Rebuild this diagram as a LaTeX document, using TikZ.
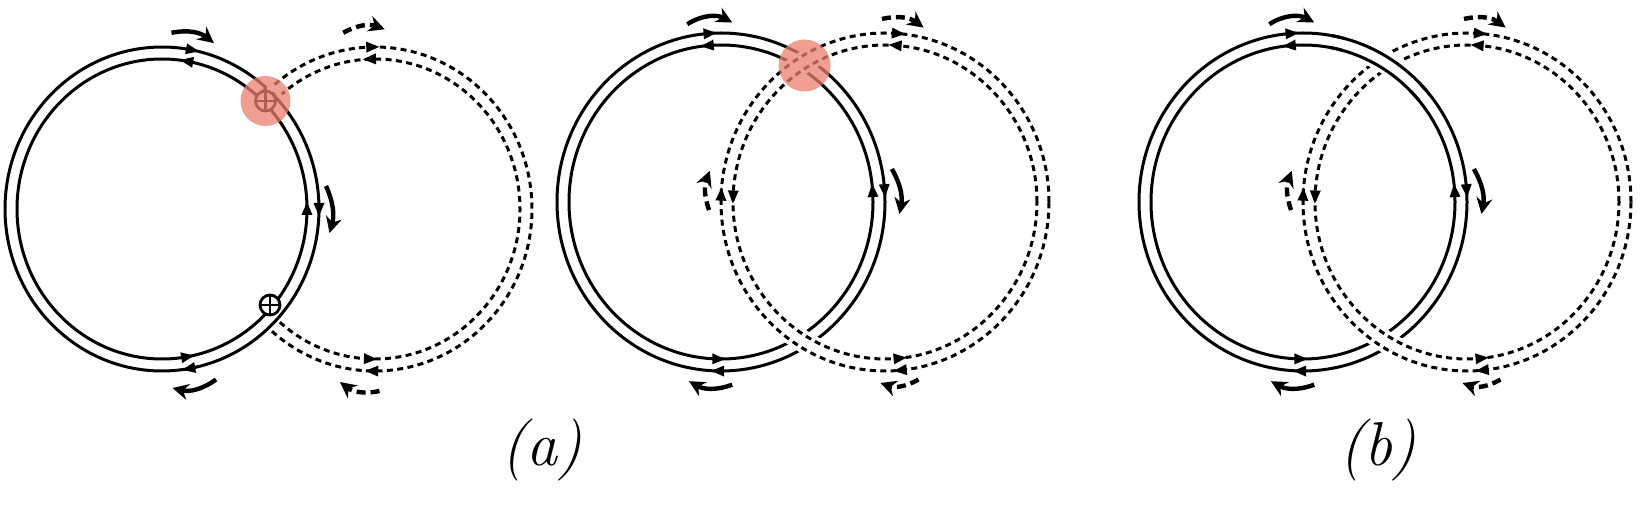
\documentclass[tikz,border=0pt]{standalone}
\usetikzlibrary{arrows.meta,calc}
\definecolor{hl}{RGB}{233,128,110}
\newcommand\amark[2]{\fill[shift={(#1)},rotate=#2] (7,0) -- (-6,5.5) -- (-6,-5.5) -- cycle;}
\begin{document}
\begin{tikzpicture}[x=0.5pt,y=0.5pt,
  sline/.style={line width=1.5pt},
  dline/.style={line width=1.5pt, dash pattern=on 3pt off 2.2pt},
  carrow/.style={line width=2.2pt, -{Stealth[length=8pt,width=8pt]}},
  dcarrow/.style={carrow, dash pattern=on 4.5pt off 2.5pt},
  knock/.style={white, line width=11pt},
  oplus/.style={circle, draw, fill=white, line width=1.4pt, minimum size=10pt, inner sep=0pt,
    path picture={\draw[line width=1.4pt] (path picture bounding box.north) -- (path picture bounding box.south)
      (path picture bounding box.west) -- (path picture bounding box.east);}},
  hlspot/.style={fill=hl, fill opacity=0.75},
  lab/.style={font=\fontsize{31}{37}\selectfont\itshape}
]
\useasboundingbox (0,0) rectangle (1640,504);
\coordinate (Sa) at (162,295);
\coordinate (Da) at (375,295);
\coordinate (Sb) at (721,302);
\coordinate (Db) at (885,302);
\coordinate (Sc) at (1303,302);
\coordinate (Dc) at (1467,302);

% ---------- panel (a), left ----------
\draw[sline] ($(Sa)+(48.4:157 and 162)$) arc[start angle=48.4, end angle=403.6, x radius=157, y radius=162];
\draw[sline] ($(Sa)+(48.4:157 and 162)$) -- ($(Sa)+(48.4:152 and 157)$);
\draw[sline] ($(Sa)+(43.6:157 and 162)$) -- ($(Sa)+(45.5:158 and 163)$);
\draw[sline] (Sa) ellipse[x radius=145, y radius=150];
\draw[dline] ($(Da)+(-131:157 and 162)$) arc[start angle=-131, end angle=130, x radius=157, y radius=162];
\draw[dline] ($(Da)+(-131:145 and 150)$) arc[start angle=-131, end angle=130, x radius=145, y radius=150];
\amark{$(Sa)+(79:157 and 162)$}{-11}
\amark{$(Sa)+(0:157 and 162)$}{-90}
\amark{$(Sa)+(-80:157 and 162)$}{-170}
\amark{$(Sa)+(80:145 and 150)$}{170}
\amark{$(Sa)+(0:145 and 150)$}{90}
\amark{$(Sa)+(-80:145 and 150)$}{10}
\amark{$(Da)+(91:157 and 162)$}{1}
\amark{$(Da)+(-91:157 and 162)$}{179}
\amark{$(Da)+(92:145 and 150)$}{182}
\amark{$(Da)+(-92:145 and 150)$}{-2}
\node[oplus] (pa1) at (265.5,403) {};
\node[oplus] (pa2) at (270,199) {};
\fill[hlspot] (265.5,403) circle (25);
\draw[carrow] (171.5,471.2) to[bend left=25] (213.9,460.9);
\draw[dcarrow] (343.3,471.2) to[bend left=25] (384.7,474.7);
\draw[carrow] (326,318) to[bend left=20] (329.5,271);
\draw[carrow] (216,124.5) to[bend left=25] (172.5,116);
\draw[dcarrow] (379.5,113) to[bend left=25] (340,122);

% ---------- panel (a), middle ----------
\draw[sline] (Sb) ellipse[x radius=164, y radius=169];
\draw[sline] (Sb) ellipse[x radius=152, y radius=157];
\draw[knock] ($(Db)+(105:158 and 163)$) arc[start angle=105, end angle=135, x radius=158, y radius=163];
\draw[knock] ($(Db)+(225:158 and 163)$) arc[start angle=225, end angle=255, x radius=158, y radius=163];
\draw[dline] (Db) ellipse[x radius=164, y radius=169];
\draw[dline] (Db) ellipse[x radius=152, y radius=157];
\amark{$(Sb)+(94:164 and 169)$}{4}
\amark{$(Sb)+(4:164 and 169)$}{-86}
\amark{$(Sb)+(-91:164 and 169)$}{-181}
\amark{$(Sb)+(95:152 and 157)$}{185}
\amark{$(Sb)+(4:152 and 157)$}{94}
\amark{$(Sb)+(-91:152 and 157)$}{-1}
\amark{$(Db)+(85.5:164 and 169)$}{-4.5}
\amark{$(Db)+(177.5:164 and 169)$}{87.5}
\amark{$(Db)+(-84.5:164 and 169)$}{-174.5}
\amark{$(Db)+(86:152 and 157)$}{176}
\amark{$(Db)+(178:152 and 157)$}{268}
\amark{$(Db)+(-84.5:152 and 157)$}{5.5}
\fill[hlspot] (804.6,438.5) circle (26);
\draw[carrow] (687.3,479.8) to[bend left=30] (732.2,481.6);
\draw[dcarrow] (882,485) to[bend left=25] (923.6,476.4);
\draw[carrow] (891.9,335) to[bend left=20] (899.5,290.1);
\draw[dcarrow] (709,294) to[bend left=20] (709.8,333.2);
\draw[carrow] (732.2,119.3) to[bend left=25] (689,122.8);
\draw[dcarrow] (918.5,124.5) to[bend left=25] (880.5,121);

% ---------- panel (b) ----------
\draw[sline] (Sc) ellipse[x radius=164, y radius=169];
\draw[sline] (Sc) ellipse[x radius=152, y radius=157];
\draw[knock] ($(Dc)+(225:158 and 163)$) arc[start angle=225, end angle=255, x radius=158, y radius=163];
\draw[dline] (Dc) ellipse[x radius=164, y radius=169];
\draw[dline] (Dc) ellipse[x radius=152, y radius=157];
\draw[knock] ($(Sc)+(45:158 and 163)$) arc[start angle=45, end angle=75, x radius=158, y radius=163];
\draw[sline] ($(Sc)+(40:164 and 169)$) arc[start angle=40, end angle=80, x radius=164, y radius=169];
\draw[sline] ($(Sc)+(40:152 and 157)$) arc[start angle=40, end angle=80, x radius=152, y radius=157];
\amark{$(Sc)+(94:164 and 169)$}{4}
\amark{$(Sc)+(4:164 and 169)$}{-86}
\amark{$(Sc)+(-91:164 and 169)$}{-181}
\amark{$(Sc)+(95:152 and 157)$}{185}
\amark{$(Sc)+(4:152 and 157)$}{94}
\amark{$(Sc)+(-91:152 and 157)$}{-1}
\amark{$(Dc)+(85.5:164 and 169)$}{-4.5}
\amark{$(Dc)+(177.5:164 and 169)$}{87.5}
\amark{$(Dc)+(-84.5:164 and 169)$}{-174.5}
\amark{$(Dc)+(86:152 and 157)$}{176}
\amark{$(Dc)+(178:152 and 157)$}{268}
\amark{$(Dc)+(-84.5:152 and 157)$}{5.5}
\draw[carrow] (1269.3,479.8) to[bend left=30] (1314.2,481.6);
\draw[dcarrow] (1464,485) to[bend left=25] (1505.6,476.4);
\draw[carrow] (1473.9,335) to[bend left=20] (1481.5,290.1);
\draw[dcarrow] (1291,294) to[bend left=20] (1291.8,333.2);
\draw[carrow] (1314.2,119.3) to[bend left=25] (1271,122.8);
\draw[dcarrow] (1500.5,124.5) to[bend left=25] (1462.5,121);

% ---------- labels ----------
\node[lab] (la) at (542,54) {(a)};
\node[lab] (lb) at (1378,54) {(b)};
\end{tikzpicture}
\end{document}
